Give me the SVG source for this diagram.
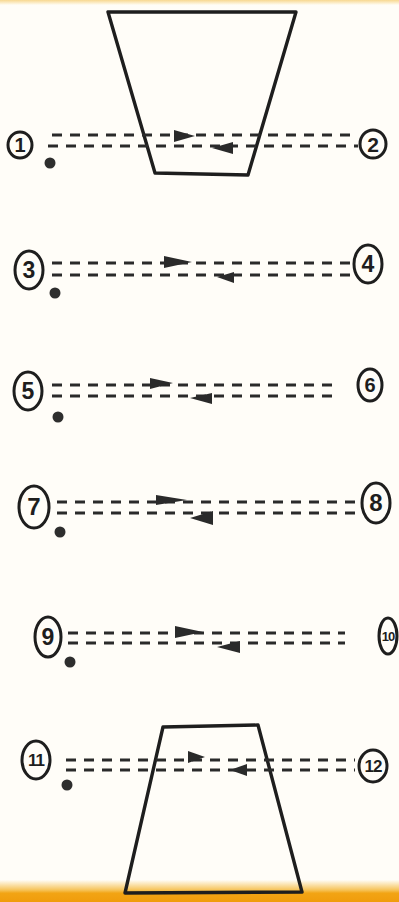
<svg xmlns="http://www.w3.org/2000/svg" width="399" height="902" viewBox="0 0 399 902">
<defs>
<linearGradient id="topband" x1="0" y1="0" x2="0" y2="1"><stop offset="0" stop-color="#f8d890"/><stop offset="1" stop-color="#fffdf6"/></linearGradient>
<linearGradient id="botband" x1="0" y1="0" x2="0" y2="1"><stop offset="0" stop-color="#fffdf6"/><stop offset="0.45" stop-color="#f6c45a"/><stop offset="0.6" stop-color="#f2a414"/><stop offset="1" stop-color="#f09c0c"/></linearGradient>
<style>
.shape{fill:none;stroke:#1e1e1e;stroke-width:3.4;stroke-linejoin:round}
.ring{fill:none;stroke:#1e1e1e;stroke-width:3}
.num{font-family:"Liberation Sans",Arial,sans-serif;font-weight:bold;fill:#1e1e1e;text-anchor:middle}
.dash{stroke:#2a2a2a;stroke-width:2.8;stroke-dasharray:10 8;fill:none}
.head{fill:#2a2a2a}
.dot{fill:#2e2e2e}
</style>
</defs>
<rect x="0" y="0" width="399" height="902" fill="#fffdf8"/>
<rect x="0" y="0" width="399" height="5" fill="url(#topband)"/>
<rect x="0" y="880" width="399" height="22" fill="url(#botband)"/>

<polygon class="shape" points="108,12 296,12 248,175 155,173"/>
<polygon class="shape" points="163,727 258,725 302,892 125,893"/>

<g id="connectors">
<line class="dash" x1="52" y1="135" x2="358" y2="135"/>
<line class="dash" x1="48" y1="146" x2="358" y2="146"/>
<polygon class="head" points="195,136 174,130 174,142"/>
<polygon class="head" points="212,148 233,142 233,154"/>

<line class="dash" x1="52" y1="263" x2="352" y2="263"/>
<line class="dash" x1="52" y1="275" x2="352" y2="275"/>
<polygon class="head" points="192,262 164,256 164,268"/>
<polygon class="head" points="217,277 234,272 234,283"/>

<line class="dash" x1="52" y1="385" x2="340" y2="385"/>
<line class="dash" x1="52" y1="396" x2="340" y2="396"/>
<polygon class="head" points="173,383 150,378 150,389"/>
<polygon class="head" points="190,398 212,393 212,404"/>

<line class="dash" x1="57" y1="502" x2="360" y2="502"/>
<line class="dash" x1="57" y1="513" x2="360" y2="513"/>
<polygon class="head" points="187,500 156,495 156,505"/>
<polygon class="head" points="190,518 213,511 213,525"/>

<line class="dash" x1="68" y1="633" x2="345" y2="633"/>
<line class="dash" x1="68" y1="643" x2="345" y2="643"/>
<polygon class="head" points="203,632 175,626 175,638"/>
<polygon class="head" points="217,647 240,641 240,653"/>

<line class="dash" x1="66" y1="760" x2="355" y2="760"/>
<line class="dash" x1="66" y1="770" x2="355" y2="770"/>
<polygon class="head" points="205,757 188,751 188,763"/>
<polygon class="head" points="230,770 247,764 247,776"/>
</g>

<g id="n1"><ellipse class="ring" cx="20" cy="145" rx="12" ry="13"/><text class="num" x="20" y="152" font-size="20">1</text><circle class="dot" cx="50" cy="163" r="5.5"/></g>
<g id="n2"><ellipse class="ring" cx="373" cy="144" rx="13" ry="14"/><text class="num" x="373" y="151.5" font-size="21">2</text></g>
<g id="n3"><ellipse class="ring" cx="29" cy="270" rx="14" ry="19"/><text class="num" x="29" y="278" font-size="23">3</text><circle class="dot" cx="55" cy="293" r="5.5"/></g>
<g id="n4"><ellipse class="ring" cx="368" cy="264" rx="14" ry="19"/><text class="num" x="368" y="272" font-size="23">4</text></g>
<g id="n5"><ellipse class="ring" cx="28" cy="391" rx="14" ry="19"/><text class="num" x="28" y="399" font-size="23">5</text><circle class="dot" cx="58" cy="417" r="5.5"/></g>
<g id="n6"><ellipse class="ring" cx="370" cy="385" rx="12" ry="16"/><text class="num" x="370" y="392" font-size="20">6</text></g>
<g id="n7"><ellipse class="ring" cx="34" cy="507" rx="15" ry="21"/><text class="num" x="34" y="515" font-size="24">7</text><circle class="dot" cx="60" cy="532" r="5.5"/></g>
<g id="n8"><ellipse class="ring" cx="376" cy="503" rx="14" ry="20"/><text class="num" x="376" y="511" font-size="24">8</text></g>
<g id="n9"><ellipse class="ring" cx="48" cy="637" rx="13" ry="20"/><text class="num" x="48" y="645" font-size="23">9</text><circle class="dot" cx="70" cy="662" r="5.5"/></g>
<g id="n10"><ellipse class="ring" cx="388" cy="636" rx="9" ry="18"/><text class="num" x="388" y="641" font-size="13" letter-spacing="-1">10</text></g>
<g id="n11"><ellipse class="ring" cx="36" cy="760" rx="14" ry="19"/><text class="num" x="36" y="766" font-size="17" letter-spacing="-1">11</text><circle class="dot" cx="67" cy="785" r="5.5"/></g>
<g id="n12"><ellipse class="ring" cx="373" cy="766" rx="14" ry="16"/><text class="num" x="373" y="772" font-size="17" letter-spacing="-1">12</text></g>
</svg>
